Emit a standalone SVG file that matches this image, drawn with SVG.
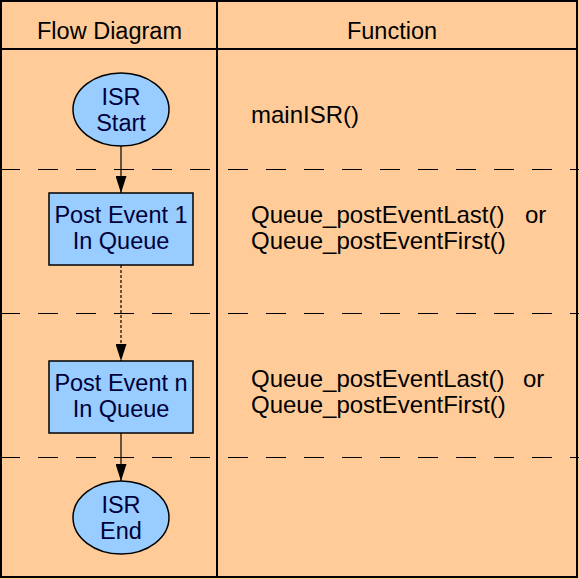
<svg xmlns="http://www.w3.org/2000/svg" width="579" height="579" viewBox="0 0 579 579">
<defs>
<style>
.hdr{font-family:"Liberation Sans",Arial,sans-serif;font-size:23.5px;fill:#000;text-anchor:middle}
.fn{font-family:"Liberation Sans",Arial,sans-serif;font-size:24px;fill:#000}
.lbl{font-family:"Liberation Sans",Arial,sans-serif;font-size:23.5px;fill:#00003a;text-anchor:middle}
.node{fill:#99ccff;stroke:#000;stroke-width:1.5}
.sep{stroke:#000;stroke-width:1;stroke-dasharray:20 18;fill:none}
.frame{stroke:#000;stroke-width:2;fill:none}
.conn{stroke:#000;stroke-width:1.2;fill:none}
</style>
<marker id="arrh" viewBox="0 0 17 11" refX="17" refY="5.5" markerWidth="17" markerHeight="11" markerUnits="userSpaceOnUse" orient="auto">
<path d="M0,0 L17,5.5 L0,11 Z" fill="#000"/>
</marker>
</defs>
<rect x="0" y="0" width="579" height="579" fill="#ffcc99"/>
<g id="separators">
<line class="sep" x1="0" y1="169.5" x2="579" y2="169.5"/>
<line class="sep" x1="0" y1="313.5" x2="579" y2="313.5"/>
<line class="sep" x1="0" y1="457.5" x2="579" y2="457.5"/>
</g>
<g id="frame">
<rect class="frame" x="1" y="1" width="576" height="576"/>
<line class="frame" x1="1" y1="49" x2="577" y2="49"/>
<line class="frame" x1="217" y1="1" x2="217" y2="577"/>
</g>
<g id="headers">
<text class="hdr" x="109.5" y="39">Flow Diagram</text>
<text class="hdr" x="392" y="39">Function</text>
</g>
<g id="connectors">
<line class="conn" x1="121" y1="146" x2="121" y2="193" marker-end="url(#arrh)"/>
<line class="conn" x1="121" y1="265" x2="121" y2="361" stroke-dasharray="3 2" marker-end="url(#arrh)"/>
<line class="conn" x1="121" y1="433" x2="121" y2="481" marker-end="url(#arrh)"/>
</g>
<g id="isr-start">
<ellipse class="node" cx="121" cy="109.5" rx="48" ry="36.5"/>
<text class="lbl" x="121" y="105">ISR</text>
<text class="lbl" x="121" y="131">Start</text>
</g>
<g id="post-event-1">
<rect class="node" x="49" y="193" width="144" height="72"/>
<text class="lbl" x="121" y="223">Post Event 1</text>
<text class="lbl" x="121" y="249">In Queue</text>
</g>
<g id="post-event-n">
<rect class="node" x="49" y="361" width="144" height="72"/>
<text class="lbl" x="121" y="391">Post Event n</text>
<text class="lbl" x="121" y="417">In Queue</text>
</g>
<g id="isr-end">
<ellipse class="node" cx="121" cy="517.5" rx="48" ry="36.5"/>
<text class="lbl" x="121" y="513">ISR</text>
<text class="lbl" x="121" y="539">End</text>
</g>
<g id="functions">
<text class="fn" x="251" y="123">mainISR()</text>
<text class="fn" x="251" y="223">Queue_postEventLast()<tspan x="525">or</tspan></text>
<text class="fn" x="251" y="249">Queue_postEventFirst()</text>
<text class="fn" x="251" y="387">Queue_postEventLast()<tspan x="523">or</tspan></text>
<text class="fn" x="251" y="413">Queue_postEventFirst()</text>
</g>
</svg>
